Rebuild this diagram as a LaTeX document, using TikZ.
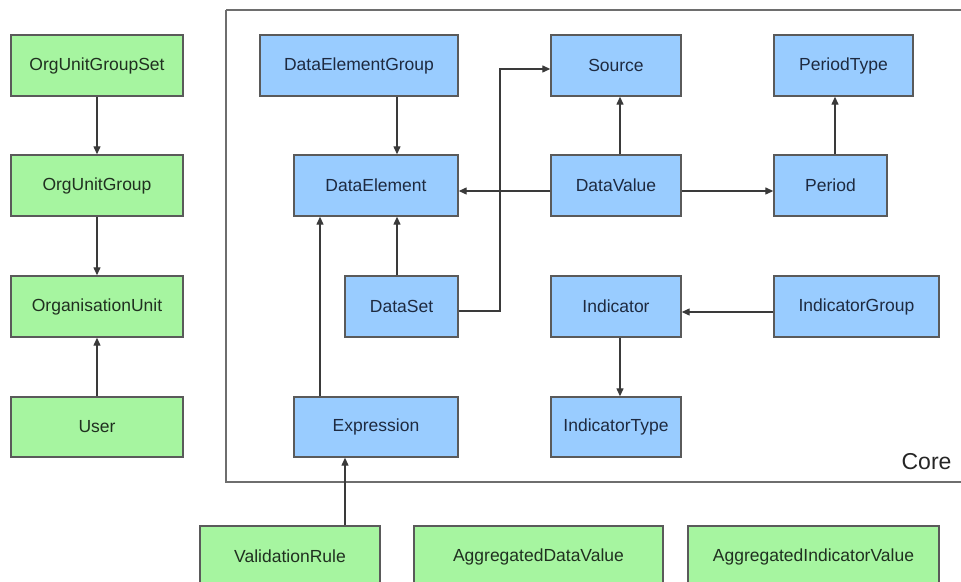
\documentclass[tikz,border=0pt]{standalone}
\usepackage{fontspec}
\setmainfont{Liberation Sans}
\usetikzlibrary{arrows.meta}
\definecolor{boxblue}{HTML}{99CCFF}
\definecolor{boxgreen}{HTML}{A6F5A0}
\definecolor{edgegray}{HTML}{5A5A5A}
\definecolor{linegray}{HTML}{3A3A3A}
\definecolor{framegray}{HTML}{6E6E6E}
\definecolor{bluetext}{HTML}{1E2A40}
\definecolor{greentext}{HTML}{203020}
\tikzset{
  entity/.style={draw=edgegray, line width=1.4bp, rectangle, inner sep=0pt,
    minimum height=61bp, font=\fontsize{17.5bp}{21bp}\selectfont},
  coreent/.style={entity, fill=boxblue, text=bluetext},
  extent/.style={entity, fill=boxgreen, text=greentext},
  arr/.style={draw=linegray, line width=1.3bp,
    -{Triangle[length=8bp,width=7bp]}},
  frame/.style={draw=framegray, line width=2bp}
}
\begin{document}
\begin{tikzpicture}[x=1bp, y=-1bp]
\useasboundingbox[fill=white] (0,0) rectangle (961,582);

% Core package frame
\draw[frame] (226,10) -- (975,10) (226,10) -- (226,482) -- (975,482);
\node[anchor=base east, font=\fontsize{23bp}{27bp}\selectfont, text=black!85]
  (corelabel) at (955,469) {Core};

% Organisation side
\node[extent, minimum width=172bp] (ougs) at (97,65.5) {OrgUnitGroupSet};
\node[extent, minimum width=172bp] (oug)  at (97,185.5) {OrgUnitGroup};
\node[extent, minimum width=172bp] (ou)   at (97,306.5) {OrganisationUnit};
\node[extent, minimum width=172bp, minimum height=60bp] (user) at (97,427) {User};

% Core entities
\node[coreent, minimum width=198bp] (deg)    at (359,65.5)   {DataElementGroup};
\node[coreent, minimum width=164bp] (de)     at (376,185.5)  {DataElement};
\node[coreent, minimum width=113bp] (ds)     at (401.5,306.5){DataSet};
\node[coreent, minimum width=164bp, minimum height=60bp] (expr) at (376,427) {Expression};
\node[coreent, minimum width=130bp] (source) at (616,65.5)   {Source};
\node[coreent, minimum width=139bp] (ptype)  at (843.5,65.5) {PeriodType};
\node[coreent, minimum width=130bp] (dv)     at (616,185.5)  {DataValue};
\node[coreent, minimum width=113bp] (period) at (830.5,185.5){Period};
\node[coreent, minimum width=130bp] (ind)    at (616,306.5)  {Indicator};
\node[coreent, minimum width=165bp] (indgrp) at (856.5,306.5){IndicatorGroup};
\node[coreent, minimum width=130bp, minimum height=60bp] (indtype) at (616,427) {IndicatorType};

% Entities below the frame
\node[extent, minimum width=180bp] (vr)  at (290,556.5)   {ValidationRule};
\node[extent, minimum width=249bp] (adv) at (538.5,556.5) {AggregatedDataValue};
\node[extent, minimum width=251bp] (aiv) at (813.5,556.5) {AggregatedIndicatorValue};

% Organisation links
\draw[arr] (ougs) -- (oug);
\draw[arr] (oug) -- (ou);
\draw[arr] (user) -- (ou);

% Core links
\draw[arr] ([xshift=21bp]de.north |- deg.south) -- ([xshift=21bp]de.north);
\draw[arr] ([xshift=-4.5bp]ds.north) -- ([xshift=-4.5bp]ds.north |- de.south);
\draw[arr] ([xshift=-56bp]expr.north) -- ([xshift=-56bp]expr.north |- de.south);
\draw[arr] ([xshift=55bp]vr.north) -- ([xshift=55bp]vr.north |- expr.south);
\draw[arr] ([yshift=-5.5bp]dv.west) -- ([yshift=-5.5bp]dv.west -| de.east);
\draw[arr] ([yshift=-5.5bp]dv.east) -- ([yshift=-5.5bp]dv.east -| period.west);
\draw[arr] ([xshift=4bp]dv.north) -- ([xshift=4bp]dv.north |- source.south);
\draw[arr] ([xshift=4.5bp]period.north) -- ([xshift=4.5bp]period.north |- ptype.south);
\coordinate (dsbend) at (500,0);
\draw[arr] ([yshift=-4.5bp]ds.east) -| ([yshift=-3.5bp]source.west -| dsbend)
  -- ([yshift=-3.5bp]source.west);
\draw[arr] ([yshift=-5.5bp]indgrp.west) -- ([yshift=-5.5bp]indgrp.west -| ind.east);
\draw[arr] ([xshift=4bp]ind.south) -- ([xshift=4bp]ind.south |- indtype.north);
\end{tikzpicture}
\end{document}
